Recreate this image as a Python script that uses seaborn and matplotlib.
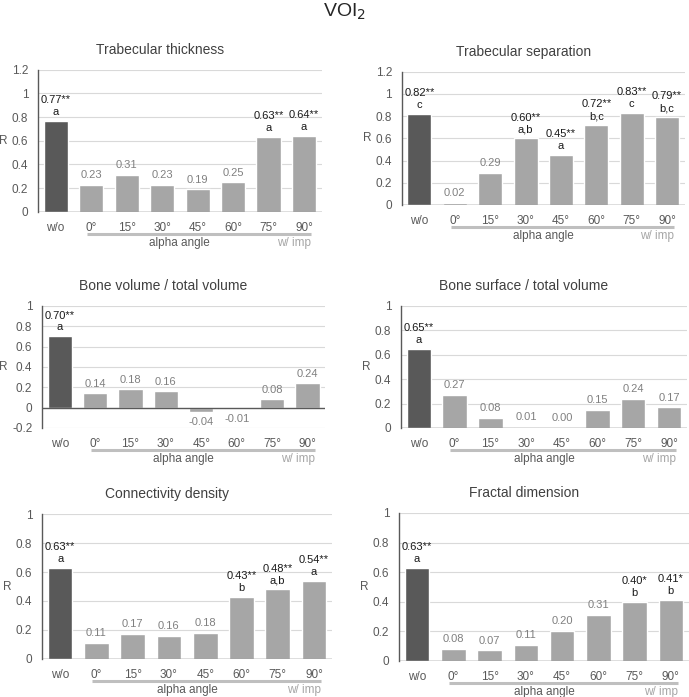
import numpy as np
import pandas as pd
import matplotlib.pyplot as plt
import matplotlib.transforms as mtransforms
import seaborn as sns

# categories and correlation coefficients
categories = ['w/o', '0°', '15°', '30°', '45°', '60°', '75°', '90°']

tb_th = [0.77, 0.23, 0.31, 0.23, 0.19, 0.25, 0.63, 0.64]
tb_sp = [0.82, 0.02, 0.29, 0.60, 0.45, 0.72, 0.83, 0.79]
bv_tv = [0.70, 0.14, 0.18, 0.16, -0.04, -0.01, 0.08, 0.24]
bs_tv = [0.65, 0.27, 0.08, 0.01, 0.00, 0.15, 0.24, 0.17]
conn_d = [0.63, 0.11, 0.17, 0.16, 0.18, 0.43, 0.48, 0.54]
fract_d = [0.63, 0.08, 0.07, 0.11, 0.20, 0.31, 0.40, 0.41]

# significance stars and letter groups
tb_th_sig = ['**', '', '', '', '', '', '**', '**']
tb_th_grp = ['a', '', '', '', '', '', 'a', 'a']
tb_sp_sig = ['**', '', '', '**', '**', '**', '**', '**']
tb_sp_grp = ['c', '', '', 'a,b', 'a', 'b,c', 'c', 'b,c']
bv_tv_sig = ['**', '', '', '', '', '', '', '']
bv_tv_grp = ['a', '', '', '', '', '', '', '']
bs_tv_sig = ['**', '', '', '', '', '', '', '']
bs_tv_grp = ['a', '', '', '', '', '', '', '']
conn_d_sig = ['**', '', '', '', '', '**', '**', '**']
conn_d_grp = ['a', '', '', '', '', 'b', 'a,b', 'a']
fract_d_sig = ['**', '', '', '', '', '', '*', '*']
fract_d_grp = ['a', '', '', '', '', '', 'b', 'b']

DARK = '#595959'
LIGHT = '#a6a6a6'
GRID = '#d9d9d9'
SIG_TXT = '#1a1a1a'
NS_TXT = '#808080'
FIG_W = 689

sns.set_style('white')
plt.rcParams['font.family'] = ['Liberation Sans', 'DejaVu Sans']


def draw_panel(fig, rect, title, values, sig, grp, ylim, yticks):
    ax = fig.add_axes(rect)
    df = pd.DataFrame({'cat': categories, 'R': values})
    colors = [DARK] + [LIGHT] * (len(categories) - 1)
    sns.barplot(data=df, x='cat', y='R', hue='cat', palette=colors,
                legend=False, width=0.68, ax=ax, saturation=1)
    ax.set_ylim(*ylim)
    ax.set_xlim(-0.5, len(categories) - 0.5)
    ax.set_yticks(yticks)
    ax.set_yticklabels(['{:g}'.format(round(t, 1)) for t in yticks])
    for t in yticks:
        if abs(t) > 1e-9:
            ax.axhline(t, color=GRID, lw=0.8, zorder=0)
    ax.axhline(0, color=DARK, lw=1.0, zorder=3)
    for s in ['top', 'right', 'bottom']:
        ax.spines[s].set_visible(False)
    ax.spines['left'].set_color(DARK)
    ax.spines['left'].set_linewidth(1.0)
    ax.tick_params(axis='both', length=0, labelsize=8.5, colors='#595959')
    ax.tick_params(axis='x', pad=7.5)
    ax.tick_params(axis='y', pad=7)
    ax.set_xlabel('')
    ax.set_ylabel('R', rotation=0, fontsize=8.5, color='#595959', labelpad=6, va='center')

    # title is centred a little left of the plot area (chart area incl. y labels)
    shift = 20.0 / (rect[2] * FIG_W)
    ax.annotate(title, (0.5 - shift, 1), xycoords='axes fraction',
                xytext=(0, 14.5), textcoords='offset points',
                ha='center', va='center', fontsize=10, color='#404040')

    # value labels
    for i, (v, s, g) in enumerate(zip(values, sig, grp)):
        col = SIG_TXT if s else NS_TXT
        if v >= 0:
            if g:
                ax.annotate(g, (i, v), xytext=(0, 6.5), textcoords='offset points',
                            ha='center', va='center', fontsize=8, color=col)
                ax.annotate('{:.2f}{}'.format(v, s), (i, v), xytext=(0, 15),
                            textcoords='offset points', ha='center', va='center',
                            fontsize=8, color=col)
            else:
                ax.annotate('{:.2f}'.format(v), (i, v), xytext=(0, 7),
                            textcoords='offset points', ha='center', va='center',
                            fontsize=8, color=col)
        else:
            ax.annotate('{:.2f}'.format(v), (i, v), xytext=(0, -7.5),
                        textcoords='offset points', ha='center', va='center',
                        fontsize=8, color=col)

    # bracket under the angle categories
    off = mtransforms.ScaledTranslation(0, -16 / 72, fig.dpi_scale_trans)
    trans = mtransforms.blended_transform_factory(ax.transData, ax.transAxes)
    ax.plot([0.88, 7.2], [0, 0], transform=trans + off, color='#bfbfbf',
            lw=2.2, clip_on=False, solid_capstyle='butt')
    ax.annotate('alpha angle', (3.5, 0), xycoords=('data', 'axes fraction'),
                xytext=(0, -22.5), textcoords='offset points', ha='center',
                va='center', fontsize=8.5, color='#595959')
    ax.annotate('w/ imp', (7.2, 0), xycoords=('data', 'axes fraction'),
                xytext=(0, -22.5), textcoords='offset points', ha='right',
                va='center', fontsize=8.5, color='#a6a6a6')
    return ax


fig = plt.figure(figsize=(6.89, 6.97), dpi=100)
fig.text(0.5, 0.983, 'VOI$_2$', ha='center', va='center', fontsize=14, color='#262626')

y12 = np.arange(0, 1.21, 0.2)
y10 = np.arange(0, 1.01, 0.2)
yneg = np.arange(-0.2, 1.01, 0.2)

draw_panel(fig, [0.055, 0.696, 0.412, 0.204], 'Trabecular thickness',
           tb_th, tb_th_sig, tb_th_grp, (0, 1.2), y12)
draw_panel(fig, [0.583, 0.706, 0.411, 0.191], 'Trabecular separation',
           tb_sp, tb_sp_sig, tb_sp_grp, (0, 1.2), y12)
draw_panel(fig, [0.061, 0.386, 0.411, 0.175], 'Bone volume / total volume',
           bv_tv, bv_tv_sig, bv_tv_grp, (-0.2, 1.0), yneg)
draw_panel(fig, [0.582, 0.386, 0.415, 0.175], 'Bone surface / total volume',
           bs_tv, bs_tv_sig, bs_tv_grp, (0, 1.0), y10)
draw_panel(fig, [0.061, 0.055, 0.421, 0.207], 'Connectivity density',
           conn_d, conn_d_sig, conn_d_grp, (0, 1.0), y10)
draw_panel(fig, [0.579, 0.052, 0.421, 0.212], 'Fractal dimension',
           fract_d, fract_d_sig, fract_d_grp, (0, 1.0), y10)

fig.savefig('out.png', dpi=100, facecolor='white')
